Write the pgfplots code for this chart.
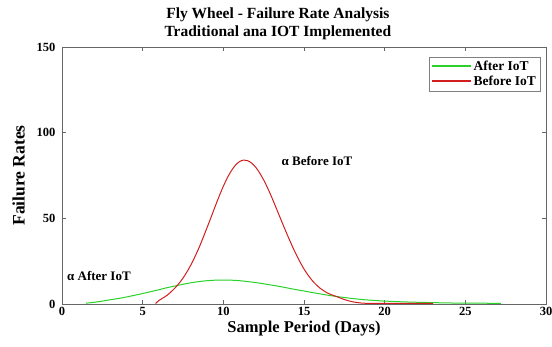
\documentclass[border=0pt]{standalone}
\usepackage{fontspec}
\setmainfont{Liberation Serif}
\usepackage{pgfplots}
\pgfplotsset{compat=1.18}
\definecolor{cgreen}{RGB}{40,210,40}
\definecolor{cred}{RGB}{210,30,30}
\begin{document}
\begin{tikzpicture}
\path[use as bounding box] (-62pt,-43pt) rectangle (490pt,304pt);
\begin{axis}[
  at={(0pt,0pt)}, anchor=south west,
  scale only axis, width=484pt, height=257pt,
  xmin=0, xmax=30, ymin=0, ymax=150,
  xtick={0,5,...,30}, ytick={0,50,100,150},
  tick align=inside,
  major tick length=4pt,
  axis line style={gray!80!black},
  every tick/.style={gray!80!black},
  /pgf/number format/assume math mode=true,
  tick label style={font=\bfseries\fontsize{12.5}{12.5}\selectfont},
  yticklabel style={xshift=-3pt},
  label style={font=\bfseries\fontsize{16.5}{16.5}\selectfont},
  xlabel={Sample Period (Days)},
  ylabel={Failure Rates},
  ylabel style={font=\bfseries\fontsize{17.5}{17.5}\selectfont, yshift=5pt},
  xlabel style={yshift=2pt},
  title={Fly Wheel - Failure Rate Analysis\\[1pt]Traditional ana IOT Implemented},
  title style={font=\bfseries\fontsize{15.5}{17}\selectfont, align=center,
    at={(axis description cs:0.446,1.0)}, anchor=south, inner sep=1pt},
  legend style={at={(axis description cs:0.988,0.962)}, anchor=north east,
    font=\bfseries\fontsize{13.5}{14}\selectfont, draw=gray, inner sep=2pt,
    cells={anchor=west}},
  legend image code/.code={\draw[#1] (0cm,0.5pt) -- (1.35cm,0.5pt);},
]
\addlegendimage{draw=cgreen, line width=1.6pt}
\addlegendentry{After IoT}
\addlegendimage{draw=cred, line width=1.6pt}
\addlegendentry{Before IoT}
\addplot[cgreen, line width=1pt, smooth, tension=0.55, forget plot] coordinates {
(1.5,0.5) (2,1.0) (2.5,1.7) (3,2.5) (3.5,3.2) (4,4.1) (4.5,5.1) (5,6.1)
(5.5,7.2) (6,8.3) (6.5,9.5) (7,10.5) (7.5,11.5) (8,12.4) (8.5,13.1)
(9,13.6) (9.5,13.9) (10,14.0) (10.5,13.9) (11,13.6) (11.5,13.1) (12,12.5)
(12.5,11.8) (13,11.0) (13.5,10.2) (14,9.3) (14.5,8.4) (15,7.6) (15.5,6.7)
(16,5.9) (16.5,5.1) (17,4.4) (17.5,3.8) (18,3.2) (18.5,2.7) (19,2.3)
(19.5,2.0) (20,1.7) (21,1.3) (22,1.0) (23,0.8) (24,0.6) (25,0.5) (26,0.45) (27.2,0.4)
};
\addplot[cred, line width=1pt, smooth, tension=0.5, forget plot] coordinates {
(5.8,0.3) (6,2.0) (6.5,5.0) (7,9.3) (7.5,15.1) (8,23.0) (8.5,33.0) (9,44.8)
(9.25,50.9) (9.5,57.1) (9.75,63.1) (10,68.7) (10.25,73.7) (10.5,77.8) (10.75,81.0)
(11,83.1) (11.25,84.0) (11.5,83.7) (11.75,82.3) (12,79.9) (12.25,76.5)
(12.5,72.4) (12.75,67.6) (13,62.3) (13.5,50.9) (14,39.6) (14.5,29.2) (15,20.4) (15.5,13.8)
(16,9.2) (16.5,6.2) (17,4.4) (17.5,2.6) (18,1.3) (18.5,0.6) (19,0.35)
(19.5,0.3) (20,0.3) (21,0.3) (22,0.3) (23,0.3)
};
\node[font=\bfseries\fontsize{13}{13}\selectfont, anchor=west] at (axis cs:0.1,16.5) {α After IoT};
\node[font=\bfseries\fontsize{13}{13}\selectfont, anchor=west] at (axis cs:13.4,83.5) {α Before IoT};
\end{axis}
\end{tikzpicture}
\end{document}
